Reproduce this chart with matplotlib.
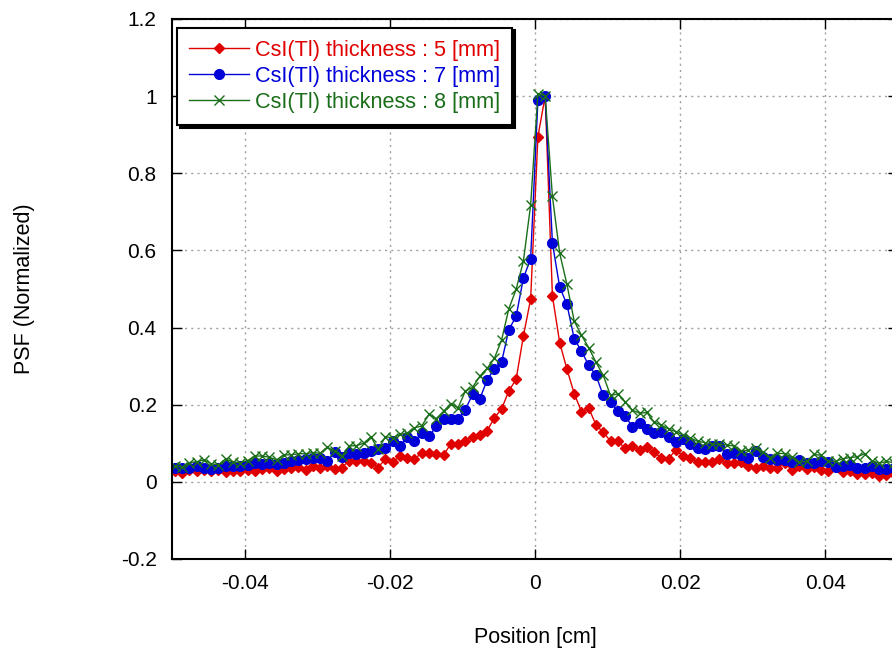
import matplotlib
matplotlib.use('Agg')
import matplotlib.pyplot as plt
import numpy as np

plt.rcParams['font.family'] = ['Liberation Sans', 'DejaVu Sans']

# position grid (cm), one sample every 0.001 cm
position = np.round(np.arange(-0.0496, 0.0500, 0.001), 4)

psf_5mm = [
    0.028, 0.022, 0.031, 0.029, 0.031, 0.027, 0.031, 0.025, 0.027, 0.029,
    0.031, 0.029, 0.033, 0.035, 0.027, 0.033, 0.035, 0.038, 0.031, 0.040,
    0.037, 0.042, 0.034, 0.037, 0.055, 0.055, 0.054, 0.050, 0.037, 0.060,
    0.052, 0.066, 0.061, 0.060, 0.074, 0.076, 0.073, 0.070, 0.098, 0.099,
    0.106, 0.117, 0.122, 0.132, 0.166, 0.189, 0.236, 0.266, 0.378, 0.474,
    0.895, 1.000, 0.482, 0.361, 0.292, 0.229, 0.182, 0.191, 0.148, 0.128,
    0.106, 0.105, 0.087, 0.094, 0.083, 0.090, 0.077, 0.062, 0.060, 0.083,
    0.066, 0.061, 0.051, 0.051, 0.051, 0.060, 0.048, 0.048, 0.051, 0.040,
    0.037, 0.042, 0.035, 0.037, 0.048, 0.031, 0.040, 0.034, 0.038, 0.031,
    0.029, 0.038, 0.025, 0.029, 0.020, 0.020, 0.022, 0.016, 0.018, 0.020,
]

psf_7mm = [
    0.035, 0.035, 0.037, 0.040, 0.035, 0.033, 0.035, 0.042, 0.040, 0.040,
    0.044, 0.050, 0.047, 0.050, 0.047, 0.050, 0.053, 0.057, 0.060, 0.061,
    0.061, 0.055, 0.077, 0.064, 0.074, 0.073, 0.074, 0.079, 0.085, 0.089,
    0.105, 0.092, 0.116, 0.106, 0.126, 0.118, 0.144, 0.163, 0.162, 0.162,
    0.187, 0.227, 0.215, 0.264, 0.293, 0.311, 0.395, 0.429, 0.528, 0.579,
    0.990, 1.000, 0.619, 0.505, 0.460, 0.371, 0.339, 0.302, 0.276, 0.224,
    0.206, 0.185, 0.172, 0.143, 0.152, 0.137, 0.126, 0.129, 0.117, 0.103,
    0.111, 0.098, 0.087, 0.085, 0.092, 0.092, 0.073, 0.074, 0.070, 0.061,
    0.079, 0.064, 0.060, 0.057, 0.057, 0.051, 0.057, 0.048, 0.048, 0.053,
    0.051, 0.038, 0.040, 0.044, 0.037, 0.035, 0.041, 0.033, 0.034, 0.035,
]

psf_8mm = [
    0.041, 0.038, 0.050, 0.052, 0.057, 0.047, 0.044, 0.060, 0.051, 0.050,
    0.055, 0.067, 0.067, 0.064, 0.057, 0.070, 0.070, 0.073, 0.073, 0.076,
    0.074, 0.090, 0.079, 0.066, 0.093, 0.094, 0.100, 0.117, 0.084, 0.117,
    0.114, 0.123, 0.126, 0.140, 0.145, 0.175, 0.164, 0.183, 0.203, 0.192,
    0.235, 0.245, 0.274, 0.294, 0.320, 0.368, 0.449, 0.499, 0.572, 0.718,
    1.006, 1.001, 0.740, 0.593, 0.512, 0.417, 0.380, 0.348, 0.310, 0.276,
    0.224, 0.228, 0.208, 0.186, 0.178, 0.180, 0.155, 0.147, 0.137, 0.130,
    0.122, 0.114, 0.105, 0.102, 0.098, 0.097, 0.096, 0.093, 0.080, 0.082,
    0.088, 0.077, 0.063, 0.074, 0.073, 0.064, 0.051, 0.053, 0.071, 0.069,
    0.054, 0.053, 0.060, 0.063, 0.065, 0.073, 0.055, 0.048, 0.053, 0.050,
]

labels = ['CsI(Tl) thickness : 5 [mm]',
          'CsI(Tl) thickness : 7 [mm]',
          'CsI(Tl) thickness : 8 [mm]']
colors = ['#e00000', '#0000d8', '#1a6e1a']

xticks = [-0.04, -0.02, 0, 0.02, 0.04]
xticklabels = ['-0.04', '-0.02', '0', '0.02', '0.04']
yticks = [-0.2, 0, 0.2, 0.4, 0.6, 0.8, 1.0, 1.2]
yticklabels = ['-0.2', '0', '0.2', '0.4', '0.6', '0.8', '1', '1.2']

fig = plt.figure(figsize=(8.92, 6.5), dpi=100)
# axes runs slightly past the right edge of the picture, as in the original
ax = fig.add_axes([172 / 892, 91 / 650, 726 / 892, 540 / 650])

ax.plot(position, psf_5mm, color=colors[0], lw=1, marker='D', ms=5,
        label=labels[0])
ax.plot(position, psf_7mm, color=colors[1], lw=1, marker='o', ms=7,
        label=labels[1])
ax.plot(position, psf_8mm, color=colors[2], lw=1, marker='x', ms=7,
        mew=1, label=labels[2])

ax.set_xlim(-0.05, 0.05)
ax.set_ylim(-0.2, 1.2)
ax.set_xticks(xticks)
ax.set_xticklabels(xticklabels)
ax.set_yticks(yticks)
ax.set_yticklabels(yticklabels)
ax.tick_params(direction='in', length=7, width=1, labelsize=15, pad=11,
               top=True, right=True)
ax.grid(True, color='#a0a0a0', linestyle=(0, (1.5, 3)), lw=1)
for s in ax.spines.values():
    s.set_linewidth(1.5)

ax.set_xlabel('Position [cm]', fontsize=15.5, labelpad=24)
ax.set_ylabel('PSF (Normalized)', fontsize=15.5, labelpad=62)

leg = ax.legend(loc='upper left', bbox_to_anchor=(0.001, 0.992),
                fontsize=15.6, frameon=True, fancybox=False,
                shadow={'color': 'black', 'alpha': 1},
                handlelength=2.75, handletextpad=0.3, borderpad=0.55,
                labelspacing=0.24, borderaxespad=0.2)
leg.get_frame().set_edgecolor('black')
leg.get_frame().set_linewidth(1.5)
for txt, c in zip(leg.get_texts(), colors):
    txt.set_color(c)

fig.savefig('out.png', dpi=100)
